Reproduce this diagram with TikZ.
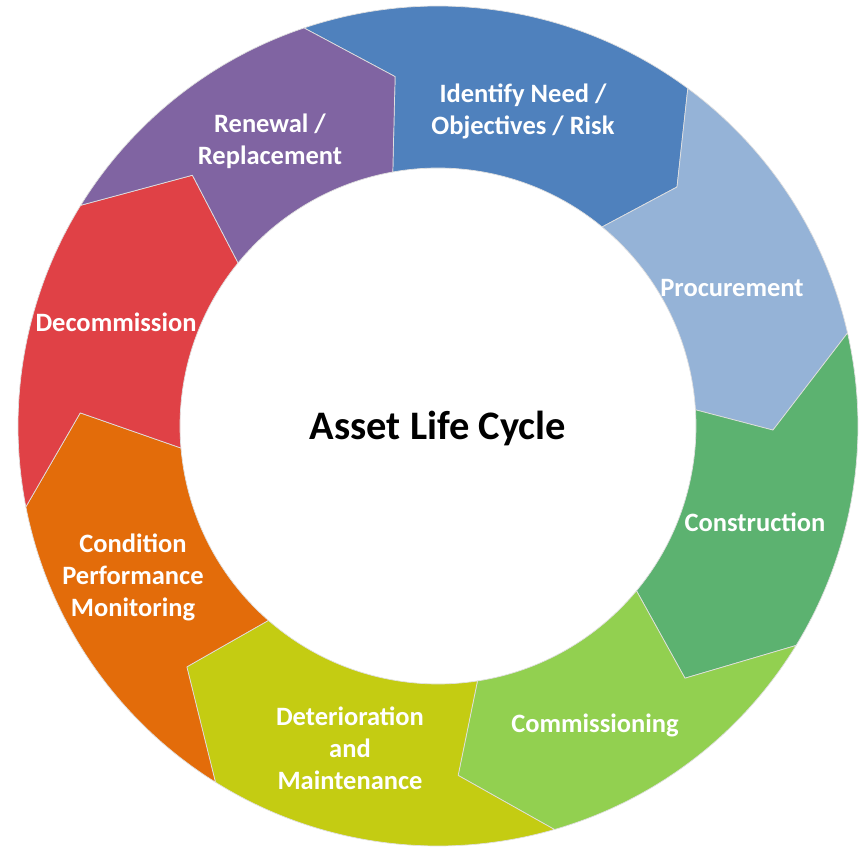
\documentclass[tikz,border=0pt]{standalone}
\usepackage{fontspec}
\setmainfont{Carlito}
\definecolor{cBlue}{RGB}{79,129,189}
\definecolor{cLBlue}{RGB}{149,179,215}
\definecolor{cGreen}{RGB}{92,178,112}
\definecolor{cLGreen}{RGB}{146,208,80}
\definecolor{cYellow}{RGB}{196,204,18}
\definecolor{cOrange}{RGB}{227,108,10}
\definecolor{cRed}{RGB}{224,65,70}
\definecolor{cPurple}{RGB}{128,100,162}
\newcommand\ringseg[9]{%
  \fill[#1, segline] (#2:420pt) arc[start angle=#2, end angle=#6, radius=420pt]
    -- (#7:#8pt) -- (#9:258pt) arc[start angle=#9, end angle=#5, radius=258pt]
    -- (#3:#4pt) -- cycle;}
\begin{document}
\begin{tikzpicture}[x=1pt,y=1pt,
  segline/.style={draw=white!88!black, line width=0.7pt, line join=round},
  lab/.style={text=white, font=\fontsize{26.5}{32}\selectfont\bfseries, align=center, inner sep=0pt},
  title/.style={text=black, font=\fontsize{40.5}{44}\selectfont\bfseries, inner sep=0pt}]
\useasboundingbox (0,0) rectangle (863,847);
\begin{scope}[shift={(438,421)}]
\ringseg{cBlue}{108.6}{97.0}{352}{100.1}{53.5}{45.0}{338}{50.5}
\ringseg{cLBlue}{53.5}{45.0}{338}{50.5}{12.8}{-0.7}{335}{3.6}
\ringseg{cGreen}{12.8}{-0.7}{335}{3.6}{-31.5}{-45.6}{353}{-39.7}
\ringseg{cLGreen}{-31.5}{-45.6}{353}{-39.7}{-73.9}{-86.7}{350}{-81.2}
\ringseg{cYellow}{-73.9}{-86.7}{350}{-81.2}{-122}{-136.2}{348}{-131.1}
\ringseg{cOrange}{-122}{-136.2}{348}{-131.1}{-168.9}{-182.1}{358}{-175.1}
\ringseg{cRed}{-168.9}{-182.1}{358}{-175.1}{-211.7}{-225.6}{351}{-219.2}
\ringseg{cPurple}{-211.7}{-225.6}{351}{-219.2}{-251.4}{-263}{352}{-259.9}
\end{scope}
\node[lab] (identify) at (523,736) {Identify Need /\\Objectives / Risk};
\node[lab] (procure) at (732,559) {Procurement};
\node[lab] (construct) at (755,325) {Construction};
\node[lab] (commission) at (595,122) {Commissioning};
\node[lab] (deterior) at (350,99) {Deterioration\\and\\Maintenance};
\node[lab] (condition) at (133,270) {Condition\\Performance\\Monitoring};
\node[lab] (decommission) at (116,525) {Decommission};
\node[lab] (renewal) at (270,706) {Renewal /\\Replacement};
\node[title] (center) at (438,419) {Asset Life Cycle};
\end{tikzpicture}
\end{document}
